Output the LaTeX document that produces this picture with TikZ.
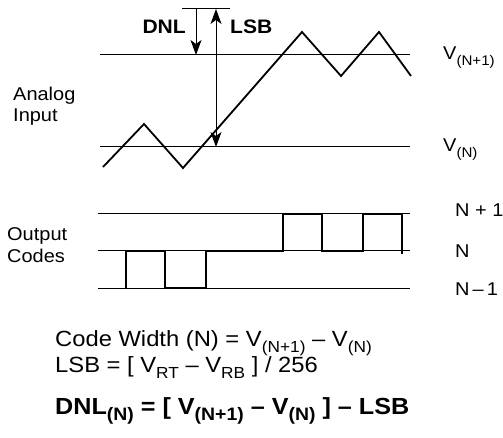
\documentclass[tikz,border=0pt]{standalone}
\usepackage{fontspec}
\setmainfont[FakeStretch=1.08]{Liberation Sans}
\usetikzlibrary{arrows.meta}
\newcommand\sbx[1]{\raisebox{-0.28em}{\fontsize{16}{16}\selectfont #1}}
\newcommand\sbxs[1]{\raisebox{-0.32em}{\fontsize{14}{14}\selectfont #1}}
\newcommand\sbxb[1]{\raisebox{-0.28em}{\fontsize{18}{18}\selectfont\bfseries #1}}
\begin{document}
\begin{tikzpicture}[x=1pt,y=-1pt,
  thin line/.style={line width=1pt},
  wave/.style={line width=1.8pt,line join=miter},
  code/.style={line width=2pt,line join=miter},
  txt/.style={inner sep=0pt,font=\fontsize{18.5}{18.5}\selectfont},
  eqtxt/.style={inner sep=0pt,font=\fontsize{22}{22}\selectfont},
  btxt/.style={inner sep=0pt,font=\fontsize{19.5}{19.5}\selectfont\bfseries},
  beqtxt/.style={inner sep=0pt,font=\fontsize{23.3}{23.3}\selectfont\bfseries},
  tip/.style={-{Stealth[length=15pt,width=11pt,inset=4pt]}},
  dtip/.style={{Stealth[length=15pt,width=11pt,inset=4pt]}-{Stealth[length=15pt,width=11pt,inset=4pt]}}]
\useasboundingbox (0,0) rectangle (503,438);
% reference lines
\coordinate (vt1) at (100,55); \coordinate (vt2) at (410,55);
\coordinate (vb1) at (100,147); \coordinate (vb2) at (410,147);
\draw[thin line] (vt1) -- (vt2);
\draw[thin line] (vb1) -- (vb2);
% tick and arrows
\coordinate (tk1) at (182,9); \coordinate (tk2) at (230,9);
\draw[thin line] (tk1) -- (tk2);
\coordinate (da) at (196,9); \coordinate (db) at (196,55);
\draw[thin line,tip] (da) -- (db);
\coordinate (la) at (216,9); \coordinate (lb) at (216,147);
\draw[thin line,dtip] (la) -- (lb);
% analog wave
\draw[wave] (103,167) -- (144,124) -- (183,168) -- (302,32) -- (341,76) -- (379,32) -- (411,76);
% code lines
\coordinate (c1a) at (98,214); \coordinate (c1b) at (410,214);
\coordinate (c2a) at (98,251); \coordinate (c2b) at (410,251);
\coordinate (c3a) at (98,288); \coordinate (c3b) at (410,288);
\draw[thin line] (c1a) -- (c1b);
\draw[thin line] (c2a) -- (c2b);
\draw[thin line] (c3a) -- (c3b);
\draw[code] (126,288) -- (126,251) -- (165,251) -- (165,288) -- (206,288) -- (206,251) -- (283,251) -- (283,214) -- (322,214) -- (322,251) -- (363,251) -- (363,214) -- (402,214) -- (402,254);
% labels
\node[btxt,anchor=base east] (dnl) at (186,34) {DNL};
\node[btxt,anchor=base west] (lsb) at (230,34) {LSB};
\node[txt,anchor=base west] (an) at (13,101) {Analog};
\node[txt,anchor=base west] (in) at (13,122) {Input};
\node[txt,anchor=base west] (ou) at (7,241) {Output};
\node[txt,anchor=base west] (co) at (7,262) {Codes};
\node[txt,anchor=base west] (vn1) at (443,60) {V\sbxs{(N+1)}};
\node[txt,anchor=base west] (vn) at (443,152) {V\sbxs{(N)}};
\node[txt,anchor=base west] (n1) at (455,217) {N + 1};
\node[txt,anchor=base west] (n0) at (455,258) {N};
\node[txt,anchor=base west] (nm) at (455,295) {N\,–\,1};
\node[eqtxt,anchor=base west] (cw) at (55,346) {Code Width (N) = V\sbx{(N+1)} – V\sbx{(N)}};
\node[eqtxt,anchor=base west] (ls) at (55,372) {LSB = [ V\sbx{RT} – V\sbx{RB} ] / 256};
\node[beqtxt,anchor=base west] (dn) at (55,414) {DNL\sbxb{(N)} = [ V\sbxb{(N+1)} – V\sbxb{(N)} ] – LSB};
\end{tikzpicture}
\end{document}
